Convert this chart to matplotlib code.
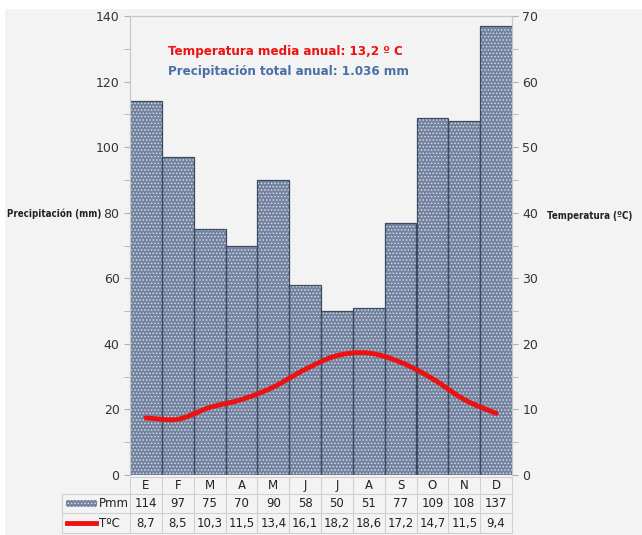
import numpy as np
import matplotlib
matplotlib.use("Agg")
import matplotlib.pyplot as plt
from matplotlib.lines import Line2D
from matplotlib.patches import Rectangle

months = ["E", "F", "M", "A", "M", "J", "J", "A", "S", "O", "N", "D"]
precip = [114, 97, 75, 70, 90, 58, 50, 51, 77, 109, 108, 137]
temp = [8.7, 8.5, 10.3, 11.5, 13.4, 16.1, 18.2, 18.6, 17.2, 14.7, 11.5, 9.4]
temp_labels = ["8,7", "8,5", "10,3", "11,5", "13,4", "16,1", "18,2", "18,6", "17,2", "14,7", "11,5", "9,4"]

plt.rcParams['font.family'] = ['DejaVu Sans']
plt.rcParams['hatch.linewidth'] = 0.7

bg = '#f3f3f3'
barc = '#72829f'
dotc = '#d4dae6'
fig = plt.figure(figsize=(6.42, 5.35), dpi=100, facecolor='white')
fig.add_artist(Rectangle((5/642, 0), 1 - 5/642, 1 - 9/535, transform=fig.transFigure,
                         facecolor=bg, edgecolor='none', zorder=-10))
ax = fig.add_axes([130/642, 1-475/535, 382/642, 459/535])
ax.set_facecolor(bg)
ax2 = ax.twinx()

x = np.arange(len(months))
ax.bar(x, precip, width=1.0, facecolor=barc, hatch='.....', edgecolor=dotc, linewidth=0, zorder=2)
ax.bar(x, precip, width=1.0, fill=False, edgecolor='#3e4a5e', linewidth=0.9, zorder=3)
ax.set_xlim(-0.5, 11.5)
ax.set_ylim(0, 140)
ax.set_yticks(range(0, 141, 20))
ax.set_yticks(range(10, 141, 20), minor=True)
ax.set_xticks([])

# smooth temperature curve (Catmull-Rom through data points)
def catmull(xs, ys, n=20):
    xs = np.asarray(xs, float); ys = np.asarray(ys, float)
    px = np.concatenate([[2*xs[0]-xs[1]], xs, [2*xs[-1]-xs[-2]]])
    py = np.concatenate([[2*ys[0]-ys[1]], ys, [2*ys[-1]-ys[-2]]])
    ox, oy = [], []
    for i in range(1, len(px)-2):
        t = np.linspace(0, 1, n, endpoint=False)
        for P, out in ((px, ox), (py, oy)):
            p0, p1, p2, p3 = P[i-1], P[i], P[i+1], P[i+2]
            out.extend(0.5*((2*p1) + (-p0+p2)*t + (2*p0-5*p1+4*p2-p3)*t**2 + (-p0+3*p1-3*p2+p3)*t**3))
    ox.append(xs[-1]); oy.append(ys[-1])
    return np.array(ox), np.array(oy)

sx, sy = catmull(x, temp)
ax2.plot(sx, sy, color='#ee1111', linewidth=3.5, solid_capstyle='round', zorder=4)
ax2.set_ylim(0, 70)
ax2.set_yticks(range(0, 71, 10))
ax2.set_yticks(range(5, 71, 10), minor=True)

for a in (ax, ax2):
    for s in a.spines.values():
        s.set_color('#c8c8c8')
    a.spines['bottom'].set_visible(False)
    a.tick_params(axis='y', which='both', colors='#b0b0b0', labelcolor='#333333', labelsize=9, length=4)
ax.spines['top'].set_color('#d8d8d8')

# annotations
fig.text(168/642, 1-51/535, "Temperatura media anual: 13,2 º C", color='#ee1111', fontsize=9.5,
         fontweight='bold', family='DejaVu Sans', fontstretch='condensed', va='center')
fig.text(168/642, 1-71/535, "Precipitación total anual: 1.036 mm", color='#4a6fa5', fontsize=9.5,
         fontweight='bold', family='DejaVu Sans', fontstretch='condensed', va='center')
fig.text(7/642, 1-214/535, "Precipitación (mm)", fontsize=7, fontweight='bold', fontstretch='condensed',
         color='#222222', va='center')
fig.text(547/642, 1-216/535, "Temperatura (ºC)", fontsize=7, fontweight='bold', fontstretch='condensed',
         color='#222222', va='center')

# data table below the chart
px0 = 130; pw = 382 / 12
rows_y = [477, 494, 513, 533]
gridc = '#d0d0d0'
def fx(p): return p/642
def fy(p): return 1 - p/535
fig.add_artist(Line2D([fx(px0), fx(512)], [fy(rows_y[0]), fy(rows_y[0])], color=gridc, lw=0.8))
for yy in rows_y[1:]:
    fig.add_artist(Line2D([fx(62), fx(512)], [fy(yy), fy(yy)], color=gridc, lw=0.8))
for i in range(13):
    xx = px0 + i*pw
    fig.add_artist(Line2D([fx(xx), fx(xx)], [fy(rows_y[0]), fy(rows_y[3])], color=gridc, lw=0.8))
fig.add_artist(Line2D([fx(62), fx(62)], [fy(rows_y[1]), fy(rows_y[3])], color=gridc, lw=0.8))

for i in range(12):
    cx = fx(px0 + (i+0.5)*pw)
    fig.text(cx, fy((rows_y[0]+rows_y[1])/2), months[i], ha='center', va='center', fontsize=8.5, color='#222222')
    fig.text(cx, fy((rows_y[1]+rows_y[2])/2), str(precip[i]), ha='center', va='center', fontsize=8.5, color='#222222')
    fig.text(cx, fy((rows_y[2]+rows_y[3])/2), temp_labels[i], ha='center', va='center', fontsize=8.5, color='#222222')

# row labels with legend keys
fig.add_artist(Rectangle((fx(66), fy(507)), fx(97)-fx(66), fy(500)-fy(507), transform=fig.transFigure,
                         facecolor=barc, hatch='.....', edgecolor=dotc, linewidth=0))
fig.text(fx(99), fy(503.5), "Pmm", ha='left', va='center', fontsize=8.5, color='#222222')
fig.add_artist(Line2D([fx(67), fx(96)], [fy(523), fy(523)], color='#ee1111', lw=3.5))
fig.text(fx(99), fy(523.5), "TºC", ha='left', va='center', fontsize=8.5, color='#222222')

fig.savefig("out.png", dpi=100, facecolor='white')
